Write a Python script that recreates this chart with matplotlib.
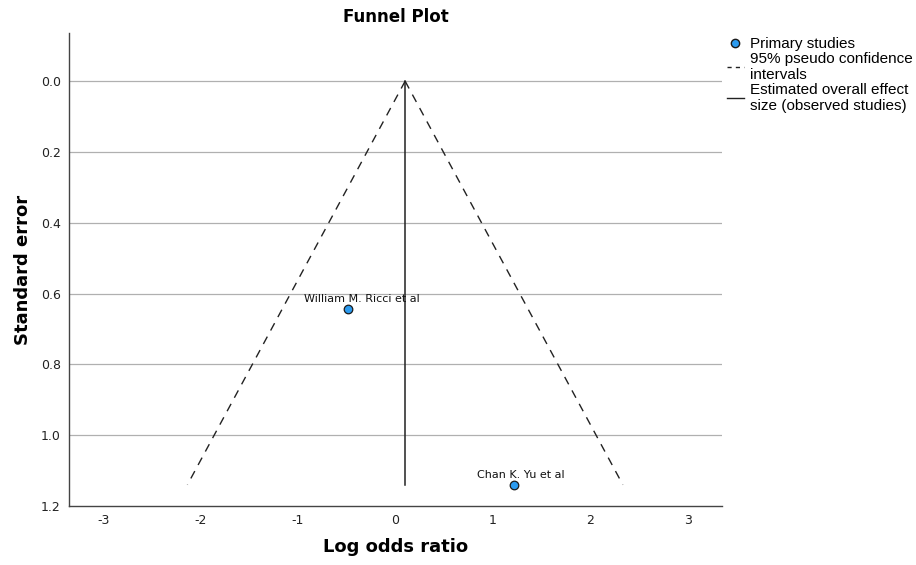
import matplotlib
matplotlib.use("Agg")
import matplotlib.pyplot as plt
from matplotlib.lines import Line2D
import numpy as np

plt.rcParams["axes.unicode_minus"] = False

studies = ["William M. Ricci et al", "Chan K. Yu et al"]
log_or = [-0.49, 1.22]
se = [0.644, 1.141]
overall = 0.10
se_max = 1.14

fig = plt.figure(figsize=(9.16, 5.65), dpi=100)
ax = fig.add_axes([0.0753, 0.1044, 0.7127, 0.8372])

ax.set_xlim(-3.35, 3.35)
ax.set_ylim(1.2, -0.136)
ax.set_xticks([-3, -2, -1, 0, 1, 2, 3])
ax.set_yticks([0.0, 0.2, 0.4, 0.6, 0.8, 1.0, 1.2])
ax.set_yticklabels(["0.0", "0.2", "0.4", "0.6", "0.8", "1.0", "1.2"])
for y in [0.0, 0.2, 0.4, 0.6, 0.8, 1.0]:
    ax.axhline(y, color="#b0b0b0", lw=0.9, zorder=0)

for s in ["top", "right"]:
    ax.spines[s].set_visible(False)
for s in ["left", "bottom"]:
    ax.spines[s].set_color("#444444")
    ax.spines[s].set_linewidth(1.0)
ax.tick_params(length=0, labelsize=9, colors="#222222", pad=6)

ses = np.array([0.0, se_max])
ax.plot(overall - 1.96 * ses, ses, ls=(0, (6, 5)), color="#222222", lw=1.0)
ax.plot(overall + 1.96 * ses, ses, ls=(0, (6, 5)), color="#222222", lw=1.0)
ax.plot([overall, overall], [0.0, se_max], color="#222222", lw=1.1)

ax.scatter(log_or, se, s=38, facecolor="#2b9bf0", edgecolor="#1a1a1a", lw=0.9, zorder=5)
offsets = [(10, 4), (4.5, 4)]
for name, x, y, off in zip(studies, log_or, se, offsets):
    ax.annotate(name, (x, y), xytext=off, textcoords="offset points",
                ha="center", va="bottom", fontsize=8, color="#111111")

ax.set_title("Funnel Plot", fontsize=12, fontweight="bold", pad=8)
ax.set_xlabel("Log odds ratio", fontsize=13, fontweight="bold", labelpad=8)
ax.set_ylabel("Standard error", fontsize=13, fontweight="bold", labelpad=6)

handles = [
    Line2D([], [], ls="none", marker="o", markersize=6, markerfacecolor="#2b9bf0",
           markeredgecolor="#1a1a1a"),
    Line2D([], [], ls=(0, (3, 3)), color="#222222", lw=1.0),
    Line2D([], [], ls="-", color="#222222", lw=1.0),
]
labels = ["Primary studies", "95% pseudo confidence\nintervals",
          "Estimated overall effect\nsize (observed studies)"]
fig.legend(handles, labels, loc="upper left", bbox_to_anchor=(0.787, 0.945),
           frameon=False, prop={"family": "Liberation Sans", "size": 11},
           handlelength=1.1, handletextpad=0.4, labelspacing=0.05, borderaxespad=0)

fig.savefig("out.png", dpi=100)
